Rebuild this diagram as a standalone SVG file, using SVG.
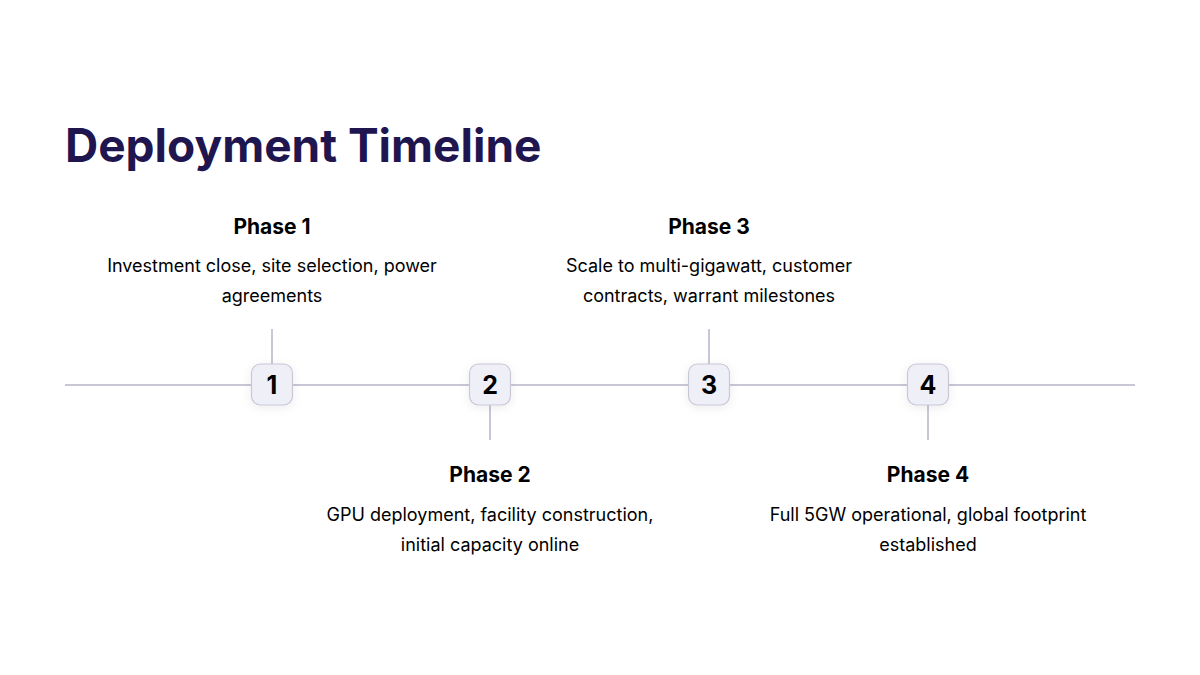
<svg xmlns="http://www.w3.org/2000/svg" width="1200" height="675" viewBox="0 0 1200 675">
<defs>
<filter id="sh" x="-50%" y="-50%" width="200%" height="200%"><feDropShadow dx="0" dy="2" stdDeviation="5" flood-color="#000" flood-opacity="0.08"/></filter>
<style>
.t{font-family:Inter,"Liberation Sans",sans-serif;fill:#000}
.h{font-size:21px;font-weight:700;text-anchor:middle}
.d{font-size:18px;text-anchor:middle}
.n{font-size:25px;font-weight:700;text-anchor:middle}
.ln{stroke:#c9c6d6;stroke-width:2;fill:none}
.box{fill:#efeff7;stroke:#c9c6d6;stroke-width:1.2}
</style>
</defs>
<rect width="1200" height="675" fill="#fff"/>
<text x="65" y="162" class="t" style="font-size:46px;font-weight:700;fill:#1f1650">Deployment Timeline</text>
<g id="connectors">
<line class="ln" x1="65" y1="385" x2="1135" y2="385"/>
<line class="ln" x1="272" y1="329" x2="272" y2="364"/>
<line class="ln" x1="490" y1="405" x2="490" y2="440"/>
<line class="ln" x1="709" y1="329" x2="709" y2="364"/>
<line class="ln" x1="928" y1="405" x2="928" y2="440"/>
</g>
<g id="phase1">
<rect class="box" filter="url(#sh)" x="251.5" y="364" width="41" height="41" rx="9"/>
<text class="t n" x="272" y="394">1</text>
<text class="t h" x="272" y="234">Phase 1</text>
<text class="t d" x="272" y="272">Investment close, site selection, power</text>
<text class="t d" x="272" y="302">agreements</text>
</g>
<g id="phase2">
<rect class="box" filter="url(#sh)" x="469.5" y="364" width="41" height="41" rx="9"/>
<text class="t n" x="490" y="394">2</text>
<text class="t h" x="490" y="482">Phase 2</text>
<text class="t d" x="490" y="521">GPU deployment, facility construction,</text>
<text class="t d" x="490" y="551">initial capacity online</text>
</g>
<g id="phase3">
<rect class="box" filter="url(#sh)" x="688.5" y="364" width="41" height="41" rx="9"/>
<text class="t n" x="709" y="394">3</text>
<text class="t h" x="709" y="234">Phase 3</text>
<text class="t d" x="709" y="272">Scale to multi-gigawatt, customer</text>
<text class="t d" x="709" y="302">contracts, warrant milestones</text>
</g>
<g id="phase4">
<rect class="box" filter="url(#sh)" x="907.5" y="364" width="41" height="41" rx="9"/>
<text class="t n" x="928" y="394">4</text>
<text class="t h" x="928" y="482">Phase 4</text>
<text class="t d" x="928" y="521">Full 5GW operational, global footprint</text>
<text class="t d" x="928" y="551">established</text>
</g>
</svg>
